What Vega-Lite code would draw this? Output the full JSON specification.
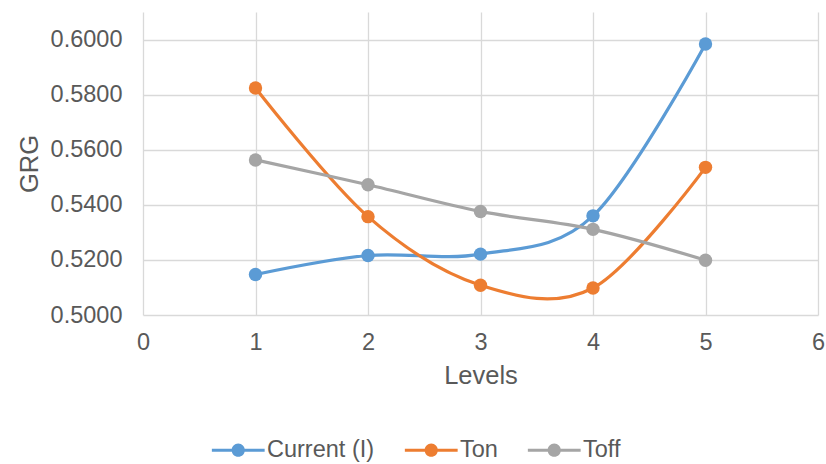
{
  "$schema": "https://vega.github.io/schema/vega-lite/v6.json",
  "width": 675,
  "height": 303,
  "autosize": {"type": "none"},
  "padding": {"left": 143, "top": 12, "right": 8, "bottom": 149},
  "background": "white",
  "config": {
    "view": {"stroke": null},
    "font": "Liberation Sans",
    "axis": {
      "domain": false,
      "ticks": false,
      "tickSize": 0,
      "grid": true,
      "gridColor": "#D9D9D9",
      "gridWidth": 1.3,
      "labelColor": "#595959",
      "labelFontSize": 23.5,
      "labelFont": "Liberation Sans",
      "titleColor": "#595959",
      "titleFontSize": 25.5,
      "titleFont": "Liberation Sans",
      "titleFontWeight": "normal"
    }
  },
  "data": {
    "values": [
      {"level": 1, "series": "Current (I)", "grg": 0.5147},
      {"level": 2, "series": "Current (I)", "grg": 0.5216},
      {"level": 3, "series": "Current (I)", "grg": 0.5221},
      {"level": 4, "series": "Current (I)", "grg": 0.5360},
      {"level": 5, "series": "Current (I)", "grg": 0.5984},
      {"level": 1, "series": "Ton", "grg": 0.5824},
      {"level": 2, "series": "Ton", "grg": 0.5357},
      {"level": 3, "series": "Ton", "grg": 0.5108},
      {"level": 4, "series": "Ton", "grg": 0.5098},
      {"level": 5, "series": "Ton", "grg": 0.5536},
      {"level": 1, "series": "Toff", "grg": 0.5563},
      {"level": 2, "series": "Toff", "grg": 0.5473},
      {"level": 3, "series": "Toff", "grg": 0.5376},
      {"level": 4, "series": "Toff", "grg": 0.5311},
      {"level": 5, "series": "Toff", "grg": 0.5199}
    ]
  },
  "encoding": {
    "x": {
      "field": "level",
      "type": "quantitative",
      "title": "Levels",
      "scale": {"domain": [0, 6], "nice": false, "zero": false},
      "axis": {"values": [0, 1, 2, 3, 4, 5, 6], "format": "d", "labelPadding": 15, "titlePadding": 10, "labelFlush": false}
    },
    "y": {
      "field": "grg",
      "type": "quantitative",
      "title": "GRG",
      "scale": {"domain": [0.5, 0.61], "nice": false, "zero": false},
      "axis": {"values": [0.5, 0.52, 0.54, 0.56, 0.58, 0.6], "format": ".4f", "labelPadding": 21, "titlePadding": 8, "labelFlush": false}
    },
    "color": {
      "field": "series",
      "type": "nominal",
      "sort": ["Current (I)", "Ton", "Toff"],
      "scale": {"domain": ["Current (I)", "Ton", "Toff"], "range": ["#5B9BD5", "#ED7D31", "#A5A5A5"]},
      "legend": {
        "orient": "none",
        "direction": "horizontal",
        "legendX": 63,
        "legendY": 426,
        "title": null,
        "symbolType": "M-4.4,-0.25H4.4V0.25H-4.4Z M1.1,0A1.1,1.1,0,1,1,-1.1,0A1.1,1.1,0,1,1,1.1,0Z",
        "symbolSize": 144,
        "symbolOffset": 20.5,
        "symbolStrokeWidth": 0,
        "labelOffset": 17,
        "labelFontSize": 23.5,
        "labelFont": "Liberation Sans",
        "labelColor": "#595959",
        "columnPadding": 24,
        "padding": 0,
        "encode": {
          "symbols": {"update": {"fill": {"scale": "color", "field": "value"}, "stroke": {"value": "transparent"}, "opacity": {"value": 1}}}
        }
      }
    }
  },
  "layer": [
    {
      "mark": {"type": "line", "interpolate": "cardinal", "tension": 0, "strokeWidth": 3.2}
    },
    {
      "mark": {"type": "point", "filled": true, "size": 180, "opacity": 1, "shape": "circle"}
    }
  ]
}
